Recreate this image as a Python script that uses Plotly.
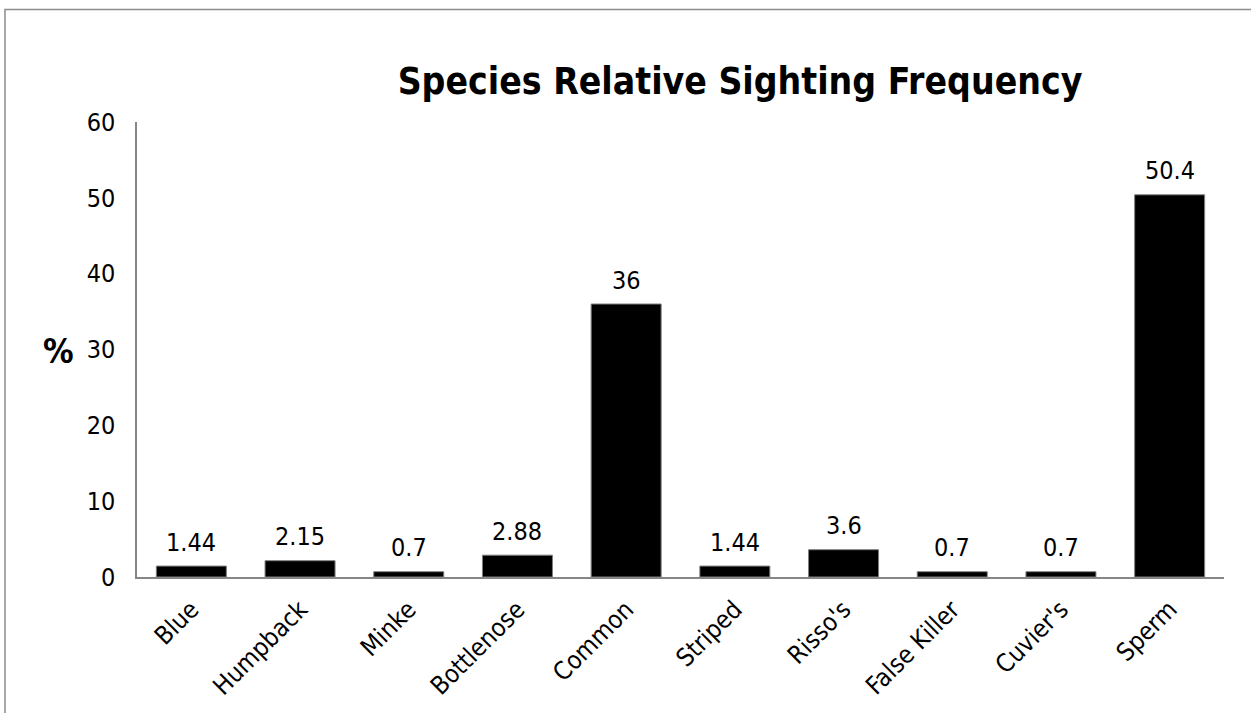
import plotly.graph_objects as go

species = ["Blue", "Humpback", "Minke", "Bottlenose", "Common", "Striped",
           "Risso's", "False Killer", "Cuvier's", "Sperm"]
frequency = [1.44, 2.15, 0.7, 2.88, 36, 1.44, 3.6, 0.7, 0.7, 50.4]
labels = ["1.44", "2.15", "0.7", "2.88", "36", "1.44", "3.6", "0.7", "0.7", "50.4"]
y_ticks = [0, 10, 20, 30, 40, 50, 60]

FONT = "DejaVu Sans Condensed, Liberation Sans Narrow, sans-serif"

W, H = 1251, 713
L, R, T, B = 137, 27, 122, 134

fig = go.Figure(go.Bar(
    x=species, y=frequency,
    marker=dict(color="black", line=dict(color="#7f7f7f", width=1)),
))

for sp, v, lab in zip(species, frequency, labels):
    fig.add_annotation(x=sp, y=v, text=lab, showarrow=False,
                       xanchor="center", yanchor="middle", yshift=24,
                       font=dict(family=FONT, size=25, color="black"))

fig.update_layout(
    width=W, height=H,
    margin=dict(l=L, r=R, t=T, b=B),
    paper_bgcolor="white", plot_bgcolor="white",
    bargap=0.356,
    showlegend=False,
    font=dict(family=FONT, color="black"),
    title=dict(text="<b>Species Relative Sighting Frequency</b>",
               x=740 / W, xanchor="center", xref="container",
               y=1 - 81 / H, yanchor="middle", yref="container",
               font=dict(family=FONT, size=37, color="black")),
)
fig.update_yaxes(range=[0, 60], tickvals=y_ticks, showgrid=False, zeroline=False,
                 showline=True, linecolor="#868686", linewidth=1.5,
                 ticks="", ticklabelstandoff=15,
                 tickfont=dict(family=FONT, size=25, color="black"))
fig.update_xaxes(showgrid=False, showline=True, linecolor="#868686", linewidth=1.5,
                 tickangle=-45, ticks="", ticklabelstandoff=6,
                 tickfont=dict(family=FONT, size=25, color="black"))

fig.add_annotation(text="<b>%</b>", xref="paper", yref="paper",
                   x=(58 - L) / (W - L - R), y=(579 - 352) / (H - T - B),
                   xanchor="center", yanchor="middle", showarrow=False,
                   font=dict(family=FONT, size=34, color="black"))

# outer chart border
fig.add_shape(type="rect", xref="paper", yref="paper",
              x0=(5 - L) / (W - L - R), x1=1.5,
              y0=-1.0, y1=(579 - 9) / (H - T - B),
              line=dict(color="#8c8c8c", width=1.5), fillcolor="rgba(0,0,0,0)",
              layer="below")

fig.write_html("out.html")
